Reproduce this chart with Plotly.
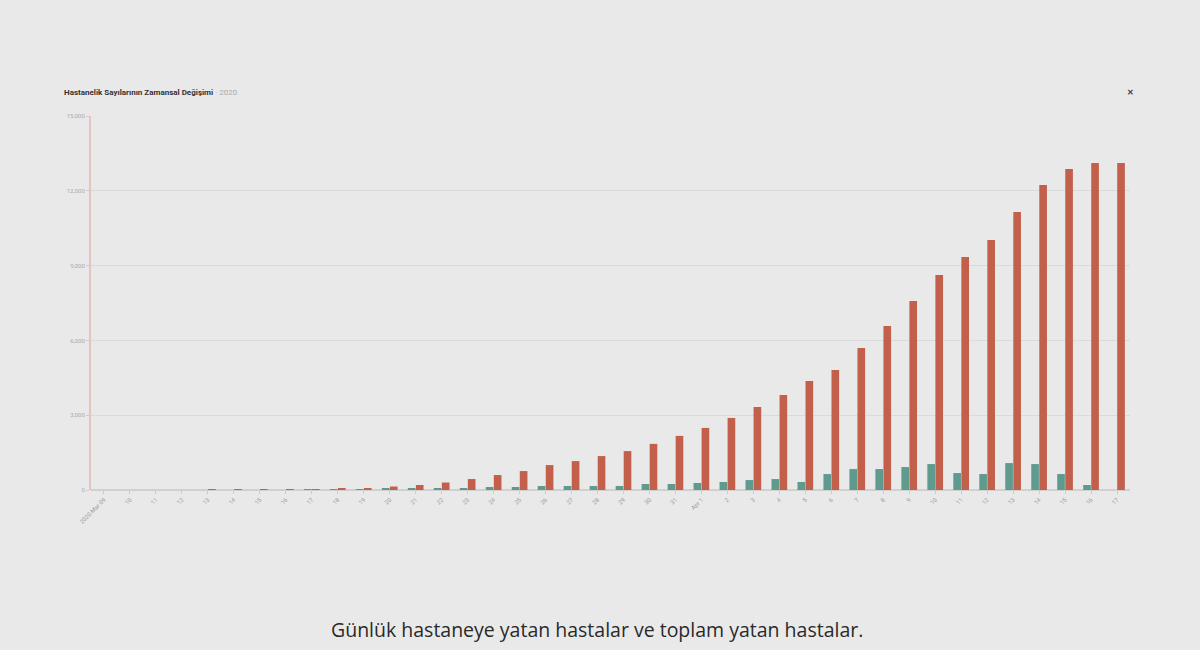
import plotly.graph_objects as go

# ---- data ----
dates = ["2020 Mar 09"] + [str(d) for d in range(10, 32)] + ["Apr 1"] + [str(d) for d in range(2, 18)]
daily = [0, 0, 0, 0, 0, 0, 0, 0, 20, 30, 40, 50, 60, 80, 80, 120, 120, 160, 160, 160,
         160, 240, 240, 280, 320, 400, 440, 320, 640, 840, 840, 920, 1040, 680, 640,
         1080, 1040, 640, 200, 0]
total = [0, 0, 0, 0, 1, 1, 2, 3, 30, 60, 80, 140, 200, 300, 440, 600, 760, 1000, 1160,
         1360, 1560, 1850, 2170, 2490, 2890, 3330, 3810, 4370, 4810, 5700, 6580, 7580,
         8620, 9340, 10030, 11150, 12230, 12870, 13110, 13110]
y_ticks = [0, 3000, 6000, 9000, 12000, 15000]
y_ticktext = ["0", "3,000", "6,000", "9,000", "12,000", "15,000"]

title_main = "Hastanelik Sayılarının Zamansal Değişimi"
title_sub = "· 2020"
caption = "Günlük hastaneye yatan hastalar ve toplam yatan hastalar."

idx = list(range(len(dates)))

fig = go.Figure()
fig.add_trace(go.Bar(x=idx, y=daily, name="Günlük", marker=dict(color="#5f9a8f", line=dict(width=0))))
fig.add_trace(go.Bar(x=idx, y=total, name="Toplam", marker=dict(color="#c2604b", line=dict(width=0))))

fig.update_layout(
    width=1200, height=650,
    paper_bgcolor="#e9e9e9", plot_bgcolor="#e9e9e9",
    margin=dict(l=91, r=70, t=116, b=160),
    barmode="group", bargap=0.38, bargroupgap=0.05,
    showlegend=False,
    font=dict(family="Roboto, Arial, sans-serif", color="#999999", size=7),
)
fig.update_xaxes(
    tickmode="array", tickvals=idx, ticktext=dates, tickangle=-45,
    range=[-0.5, len(dates) - 0.5],
    showgrid=False, zeroline=False, showline=False,
    ticks="outside", ticklen=3, tickcolor="#cccccc",
    tickfont=dict(size=6, color="#999999"),
)
fig.update_yaxes(
    range=[0, 15000], tickmode="array", tickvals=y_ticks, ticktext=y_ticktext,
    showgrid=True, gridcolor="#dadada", gridwidth=1,
    zeroline=True, zerolinecolor="#d0d0d0",
    showline=True, linecolor="#e2c4c0", linewidth=2,
    ticks="outside", ticklen=3, tickcolor="#e2c4c0",
    tickfont=dict(size=6, color="#aaaaaa"),
)

fig.add_annotation(
    xref="paper", yref="paper", x=-0.028, y=1.062, xanchor="left", yanchor="middle",
    showarrow=False,
    text=f"<b>{title_main}</b> <span style='color:#aaaaaa'>{title_sub}</span>",
    font=dict(size=8, color="#333333"),
)
fig.add_annotation(
    xref="paper", yref="paper", x=1.0, y=1.062, xanchor="center", yanchor="middle",
    showarrow=False, text="<b>✕</b>", font=dict(size=8, color="#444444"),
)
fig.add_annotation(
    xref="paper", yref="paper", x=0.487, y=-0.374, xanchor="center", yanchor="middle",
    showarrow=False, text=caption,
    font=dict(size=19.5, color="#2a2a2a", family="Open Sans, Noto Sans, sans-serif"),
)

fig.write_html(
    "out.html",
    config={"displayModeBar": False},
    post_script="document.body.style.margin='0';document.body.style.background='#e9e9e9';document.body.style.overflow='hidden';",
)
